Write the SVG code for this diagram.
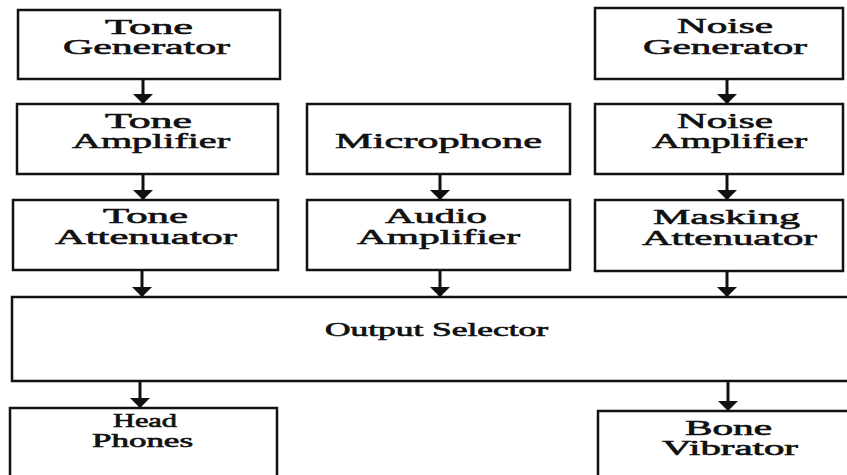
<svg xmlns="http://www.w3.org/2000/svg" width="847" height="475" viewBox="0 0 847 475">
<defs>
<style>
.box{fill:#fff;stroke:#111;stroke-width:2.5}
.t{font-family:"Liberation Serif","Times New Roman",serif;font-size:22px;fill:#111;stroke:#111;stroke-width:0.6}
.s{font-size:18px}
.b{font-size:20px}
.c{stroke:#111;stroke-width:3;fill:none;marker-end:url(#ah)}
</style>
<marker id="ah" viewBox="0 0 10 20" refX="10" refY="10" markerWidth="10" markerHeight="20" markerUnits="userSpaceOnUse" orient="auto">
<path d="M0,0 L10,10 L0,20 z" fill="#111"/>
</marker>
</defs>
<rect width="847" height="475" fill="#fff"/>
<g id="tone-generator">
<rect class="box" x="18" y="10" width="262" height="69"/>
<text class="t" x="105" y="34" textLength="88" lengthAdjust="spacingAndGlyphs">Tone</text>
<text class="t" x="63" y="54" textLength="167" lengthAdjust="spacingAndGlyphs">Generator</text>
</g>
<g id="tone-amplifier">
<rect class="box" x="17" y="104" width="261" height="70"/>
<text class="t" x="105" y="128" textLength="87" lengthAdjust="spacingAndGlyphs">Tone</text>
<text class="t" x="72" y="148" textLength="158" lengthAdjust="spacingAndGlyphs">Amplifier</text>
</g>
<g id="tone-attenuator">
<rect class="box" x="13" y="200" width="265" height="70"/>
<text class="t" x="103" y="223" textLength="85" lengthAdjust="spacingAndGlyphs">Tone</text>
<text class="t" x="55" y="244" textLength="182" lengthAdjust="spacingAndGlyphs">Attenuator</text>
</g>
<g id="microphone">
<rect class="box" x="307" y="104" width="263" height="70"/>
<text class="t" x="335" y="148" textLength="207" lengthAdjust="spacingAndGlyphs">Microphone</text>
</g>
<g id="audio-amplifier">
<rect class="box" x="307" y="200" width="263" height="70"/>
<text class="t" x="385" y="223" textLength="102" lengthAdjust="spacingAndGlyphs">Audio</text>
<text class="t" x="357" y="244" textLength="163" lengthAdjust="spacingAndGlyphs">Amplifier</text>
</g>
<g id="noise-generator">
<rect class="box" x="595" y="8" width="248" height="71"/>
<text class="t" x="677" y="33" textLength="96" lengthAdjust="spacingAndGlyphs">Noise</text>
<text class="t" x="643" y="54" textLength="164" lengthAdjust="spacingAndGlyphs">Generator</text>
</g>
<g id="noise-amplifier">
<rect class="box" x="595" y="104" width="248" height="70"/>
<text class="t" x="677" y="128" textLength="96" lengthAdjust="spacingAndGlyphs">Noise</text>
<text class="t" x="652" y="148" textLength="155" lengthAdjust="spacingAndGlyphs">Amplifier</text>
</g>
<g id="masking-attenuator">
<rect class="box" x="595" y="200" width="248" height="71"/>
<text class="t" x="653" y="224" textLength="147" lengthAdjust="spacingAndGlyphs">Masking</text>
<text class="t" x="642" y="245" textLength="175" lengthAdjust="spacingAndGlyphs">Attenuator</text>
</g>
<g id="output-selector">
<rect class="box" x="12" y="297" width="850" height="84"/>
<text class="t s" x="325" y="336" textLength="223" lengthAdjust="spacingAndGlyphs">Output Selector</text>
</g>
<g id="head-phones">
<rect class="box" x="10" y="408" width="267" height="80"/>
<text class="t s" x="113" y="427" textLength="64" lengthAdjust="spacingAndGlyphs">Head</text>
<text class="t s" x="92" y="447" textLength="101" lengthAdjust="spacingAndGlyphs">Phones</text>
</g>
<g id="bone-vibrator">
<rect class="box" x="598" y="411" width="260" height="80"/>
<text class="t b" x="685" y="435" textLength="87" lengthAdjust="spacingAndGlyphs">Bone</text>
<text class="t b" x="662" y="455" textLength="136" lengthAdjust="spacingAndGlyphs">Vibrator</text>
</g>
<g id="connectors">
<line class="c" x1="143" y1="79" x2="143" y2="104"/>
<line class="c" x1="143" y1="174" x2="143" y2="200"/>
<line class="c" x1="142" y1="270" x2="142" y2="297"/>
<line class="c" x1="440" y1="174" x2="440" y2="200"/>
<line class="c" x1="440" y1="270" x2="440" y2="297"/>
<line class="c" x1="727" y1="79" x2="727" y2="104"/>
<line class="c" x1="727" y1="174" x2="727" y2="200"/>
<line class="c" x1="727" y1="271" x2="727" y2="297"/>
<line class="c" x1="140" y1="381" x2="140" y2="408"/>
<line class="c" x1="728" y1="381" x2="728" y2="411"/>
</g>
</svg>
